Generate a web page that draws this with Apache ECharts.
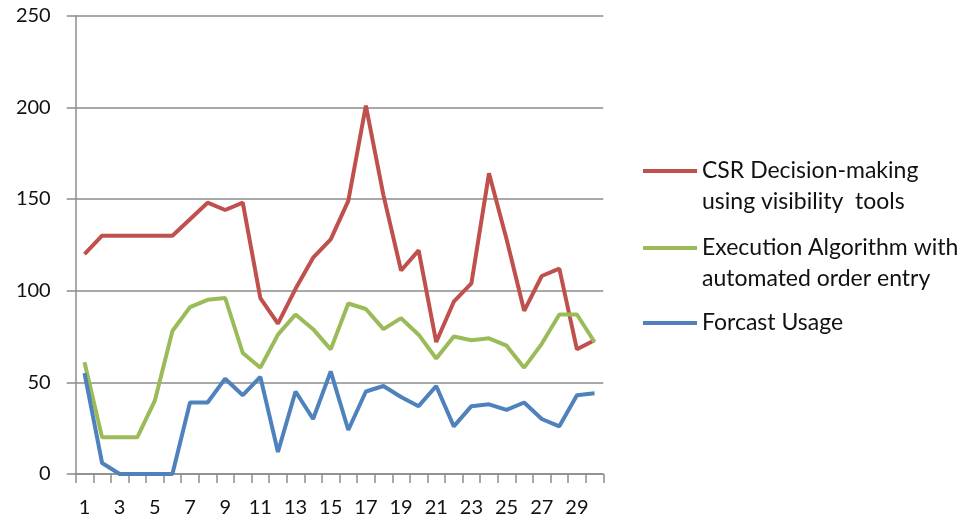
<!DOCTYPE html>
<html>
<head>
<meta charset="utf-8">
<script src="https://cdn.jsdelivr.net/npm/echarts@6/dist/echarts.min.js"></script>
<style>html,body{margin:0;padding:0;background:#fff}#c{width:967px;height:519px}</style>
</head>
<body>
<div id="c"></div>
<script>
var categories = ['1','2','3','4','5','6','7','8','9','10','11','12','13','14','15','16','17','18','19','20','21','22','23','24','25','26','27','28','29','30'];
var seriesNames = ['CSR Decision-making using visibility  tools', 'Execution Algorithm with automated order entry', 'Forcast Usage'];
var legendLines = [['CSR Decision-making', 'using visibility  tools'], ['Execution Algorithm with', 'automated order entry'], ['Forcast Usage']];
var csrValues = [120,130,130,130,130,130,139,148,144,148,96,82,101,118,128,149,201,152,111,122,72,94,104,164,128,89,108,112,68,73];
var execValues = [61,20,20,20,40,78,91,95,96,66,58,76,87,79,68,93,90,79,85,76,63,75,73,74,70,58,71,87,87,72];
var forecastValues = [55,6,0,0,0,0,39,39,52,43,53,12,45,30,56,24,45,48,42,37,48,26,37,38,35,39,30,26,43,44];
var yTicks = [0,50,100,150,200,250];

var FONT = 'Lato';
var colors = ['#C0504D','#9BBB59','#4F81BD'];
var chart = echarts.init(document.getElementById('c'), null, {renderer:'canvas'});

function mkLegend(i, top) {
  var lines = legendLines[i];
  return {
    show: true,
    left: 643,
    top: top,
    orient: 'vertical',
    data: [seriesNames[i]],
    icon: 'rect',
    itemWidth: 54,
    itemHeight: 4,
    itemGap: 0,
    padding: 0,
    selectedMode: false,
    formatter: function(){ return lines.length > 1 ? '\n' + lines.join('\n') : lines[0]; },
    textStyle: { fontFamily: FONT, fontSize: 23, color: '#111', lineHeight: 31 }
  };
}

chart.setOption({
  animation: false,
  color: colors,
  grid: { left: 75.7, right: 363.7, top: 15.7, bottom: 45, containLabel: false },
  legend: [mkLegend(0, 124.5), mkLegend(1, 201.5), mkLegend(2, 307.5)],
  xAxis: {
    type: 'category',
    data: categories,
    boundaryGap: true,
    axisLine: { show: true, lineStyle: { color: '#8c8c8c', width: 1.5 } },
    axisTick: { show: true, alignWithLabel: false, interval: 0, length: 9, lineStyle: { color: '#8c8c8c', width: 1.5 } },
    axisLabel: { interval: 1, margin: 24, fontFamily: FONT, fontSize: 20, color: '#111' },
    splitLine: { show: false }
  },
  yAxis: {
    type: 'value',
    min: 0, max: 250, interval: 50,
    axisLine: { show: true, lineStyle: { color: '#8c8c8c', width: 1.5 } },
    axisTick: { show: true, length: 9, lineStyle: { color: '#8c8c8c', width: 1.5 } },
    axisLabel: { margin: 25, fontFamily: FONT, fontSize: 20, color: '#111',
      formatter: function(v){ return yTicks.indexOf(v) >= 0 ? String(v) : ''; } },
    splitLine: { show: true, lineStyle: { color: '#8c8c8c', width: 1.5 } }
  },
  series: [
    { name: seriesNames[0], type: 'line', data: csrValues, symbol: 'none', lineStyle: { width: 4, color: colors[0] }, itemStyle: { color: colors[0] } },
    { name: seriesNames[1], type: 'line', data: execValues, symbol: 'none', lineStyle: { width: 4, color: colors[1] }, itemStyle: { color: colors[1] } },
    { name: seriesNames[2], type: 'line', data: forecastValues, symbol: 'none', lineStyle: { width: 4, color: colors[2] }, itemStyle: { color: colors[2] } }
  ]
});
</script>
</body>
</html>
